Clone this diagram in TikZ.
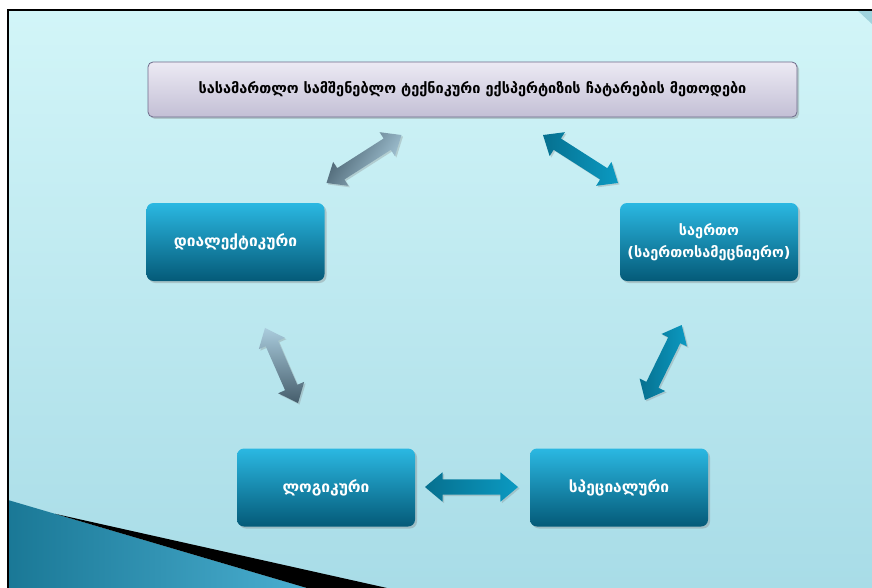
\documentclass[tikz,border=0pt]{standalone}
\usepackage{fontspec}
\setmainfont{DejaVu Sans}
\usetikzlibrary{shapes.arrows,shadows}
\definecolor{bgtop}{HTML}{D2F5F8}
\definecolor{bgbot}{HTML}{A8DCE7}
\definecolor{cornerc}{HTML}{9FD3DD}
\definecolor{tealA}{HTML}{1A7896}
\definecolor{tealB}{HTML}{4AAED0}
\definecolor{ttop}{HTML}{ECEAF4}
\definecolor{tbot}{HTML}{C3BFD5}
\definecolor{tborder}{HTML}{6E6A8A}
\definecolor{btop}{HTML}{2BB8E2}
\definecolor{bbot}{HTML}{045A78}
\definecolor{arlight}{HTML}{AACCDD}
\definecolor{ardark}{HTML}{455D6B}
\definecolor{artealA}{HTML}{0B9AC2}
\definecolor{artealB}{HTML}{06708F}
\begin{document}
\begin{tikzpicture}[x=1pt,y=-1pt,
  titlebox/.style={rectangle, rounded corners=5pt, draw=tborder, line width=0.8pt,
    top color=ttop, bottom color=tbot, minimum width=649pt, minimum height=55pt,
    font=\fontsize{14.5}{17}\selectfont\bfseries, text=black,
    drop shadow={shadow xshift=2pt, shadow yshift=-2pt, opacity=0.35}},
  methodbox/.style={rectangle, rounded corners=7pt, top color=btop, bottom color=bbot,
    minimum width=178pt, minimum height=78pt, align=center, text=white,
    font=\fontsize{15.5}{22}\selectfont\bfseries,
    drop shadow={shadow xshift=2pt, shadow yshift=-2pt, opacity=0.35}},
  darr/.style={shape=double arrow, inner xsep=0pt, inner ysep=6.5pt,
    double arrow head extend=7.5pt, double arrow tip angle=80,
    drop shadow={shadow xshift=1.5pt, shadow yshift=-1.5pt, opacity=0.3}},
  tealarr/.style={darr, left color=artealB, right color=artealA}
]
\useasboundingbox (0,0) rectangle (872,588);
\fill[white] (0,0) rectangle (872,588);
\shade[top color=bgtop, bottom color=bgbot] (8,10) rectangle (872,588);
\fill[cornerc] (857,10) -- (872,10) -- (872,24) -- cycle;
\shade[left color=tealA, right color=tealB] (8,500) -- (307,588) -- (8,588) -- cycle;
\fill[black] (55,513.8) -- (387,588) -- (307,588) -- cycle;
\draw[black, line width=1.2pt] (8,588) -- (8,10) -- (872,10);

\node[titlebox] (title) at (472.5,89.5) {სასამართლო სამშენებლო ტექნიკური ექსპერტიზის ჩატარების მეთოდები};
\node[methodbox] (dia) at (235.5,242) {დიალექტიკური};
\node[methodbox, font=\fontsize{14.5}{22}\selectfont\bfseries] (sae) at (709,242) {საერთო\\(საერთოსამეცნიერო)};
\node[methodbox] (log) at (326,487.5) {ლოგიკური};
\node[methodbox] (spe) at (619,487.5) {სპეციალური};

\node[darr, left color=ardark, right color=arlight, shading angle=-33+90,
  minimum height=89pt, rotate=32.6] (a1) at (364,159) {};
\node[tealarr, minimum height=89pt, rotate=-32.6] (a2) at (580.5,159) {};
\node[darr, top color=arlight, bottom color=ardark,
  minimum height=82pt, rotate=113.75] (a3) at (281.5,365.5) {};
\node[tealarr, minimum height=83.5pt, rotate=63.9] (a4) at (663.3,362.5) {};
\node[tealarr, inner ysep=7.5pt, double arrow head extend=7pt, minimum height=93pt] (a5) at (471.5,487) {};
\end{tikzpicture}
\end{document}
